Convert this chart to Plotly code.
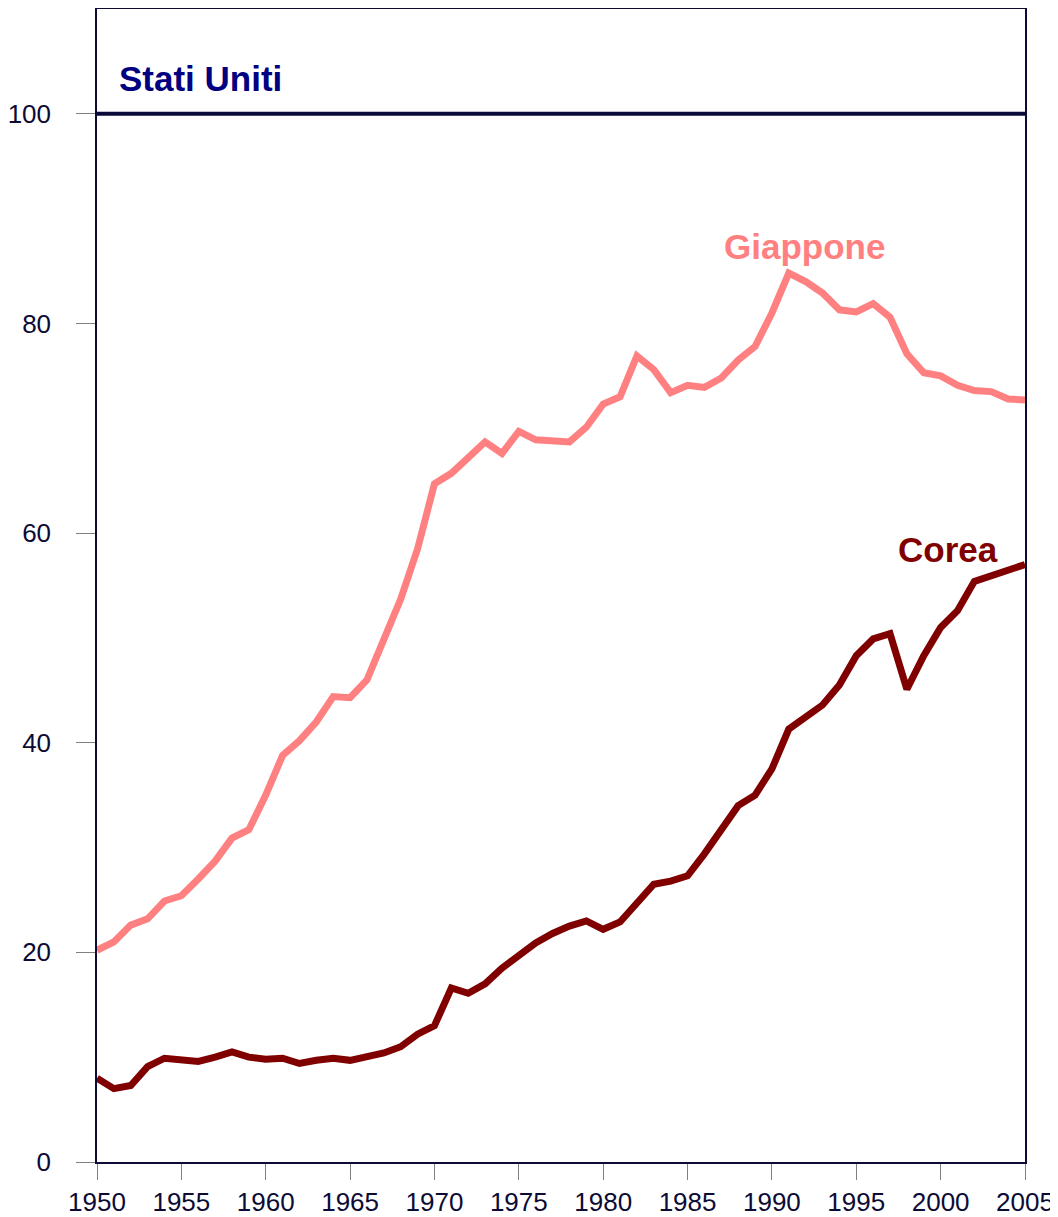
import plotly.graph_objects as go

years = list(range(1950, 2006))

giappone = [20.2, 21.0, 22.6, 23.2, 24.9, 25.4, 27.0, 28.7, 30.9, 31.7,
            35.0, 38.8, 40.2, 42.0, 44.4, 44.3, 46.0, 50.0, 53.7, 58.5,
            64.7, 65.7, 67.3, 68.7, 67.6, 69.7, 68.9, 68.8, 68.7, 70.1,
            72.3, 73.0, 76.9, 75.6, 73.4, 74.1, 73.9, 74.8, 76.5, 77.8,
            81.0, 84.8, 84.0, 82.9, 81.3, 81.1, 81.9, 80.6, 77.1, 75.3,
            75.0, 74.1, 73.6, 73.5, 72.8, 72.7]

corea = [8.0, 7.0, 7.3, 9.1, 9.9, 9.8, 9.6, 10.0, 10.5, 10.0,
         9.8, 9.9, 9.4, 9.7, 9.9, 9.7, 10.0, 10.4, 11.0, 12.2,
         13.0, 16.6, 16.1, 17.0, 18.5, 19.7, 20.9, 21.8, 22.5, 23.0,
         22.2, 22.9, 24.8, 26.5, 26.8, 27.3, 29.4, 31.7, 34.0, 35.0,
         37.5, 41.3, 42.4, 43.6, 45.5, 48.3, 49.9, 50.4, 45.1, 48.3,
         51.0, 52.6, 55.4, 55.9, 56.5, 57.0]

us_years = [1950, 2005]
stati_uniti = [100, 100]

x_ticks = [1950, 1955, 1960, 1965, 1970, 1975, 1980, 1985, 1990, 1995, 2000, 2005]
y_ticks = [0, 20, 40, 60, 80, 100]

NAVY = "#0b0b35"
tick_font = dict(family="Liberation Sans, Arial, sans-serif", size=26, color=NAVY)
label_font = "Liberation Sans, Arial, sans-serif"

fig = go.Figure()
fig.add_trace(go.Scatter(x=us_years, y=stati_uniti, mode="lines",
                         line=dict(color="#0a0a3a", width=4), hoverinfo="skip", name="Stati Uniti"))
fig.add_trace(go.Scatter(x=years, y=giappone, mode="lines",
                         line=dict(color="#FF8080", width=7), name="Giappone"))
fig.add_trace(go.Scatter(x=years, y=corea, mode="lines",
                         line=dict(color="#800000", width=7), name="Corea"))

fig.add_annotation(x=1951.2, y=103.4, text="<b>Stati Uniti</b>", showarrow=False,
                   xanchor="left", yanchor="middle",
                   font=dict(family=label_font, size=35, color="#000080"))
fig.add_annotation(x=1996.8, y=87.3, text="<b>Giappone</b>", showarrow=False,
                   xanchor="right", yanchor="middle",
                   font=dict(family=label_font, size=35, color="#FF8080"))
fig.add_annotation(x=2003.5, y=58.4, text="<b>Corea</b>", showarrow=False,
                   xanchor="right", yanchor="middle",
                   font=dict(family=label_font, size=35, color="#800000"))

# page body has an 8px default margin, so the figure is sized to end at the window edge
fig.update_layout(
    width=1050, height=1209,
    margin=dict(l=89, r=33, t=1, b=55),
    paper_bgcolor="white", plot_bgcolor="white",
    showlegend=False,
)
fig.update_xaxes(range=[1950, 2005], tickvals=x_ticks, ticktext=[str(v) for v in x_ticks],
                 ticks="outside", ticklen=16, tickwidth=1, tickcolor="#808080",
                 showgrid=False, zeroline=False, showline=True, mirror=True, automargin=False,
                 linecolor=NAVY, linewidth=1.5, tickfont=tick_font, ticklabelstandoff=0)
fig.update_yaxes(range=[0, 110], tickvals=y_ticks, ticktext=[str(v) for v in y_ticks],
                 ticks="outside", ticklen=19, tickwidth=1, tickcolor="#808080",
                 showgrid=False, zeroline=False, showline=True, mirror=True, automargin=False,
                 linecolor=NAVY, linewidth=1.5, tickfont=tick_font, ticklabelstandoff=20)

fig.write_html("out.html")
